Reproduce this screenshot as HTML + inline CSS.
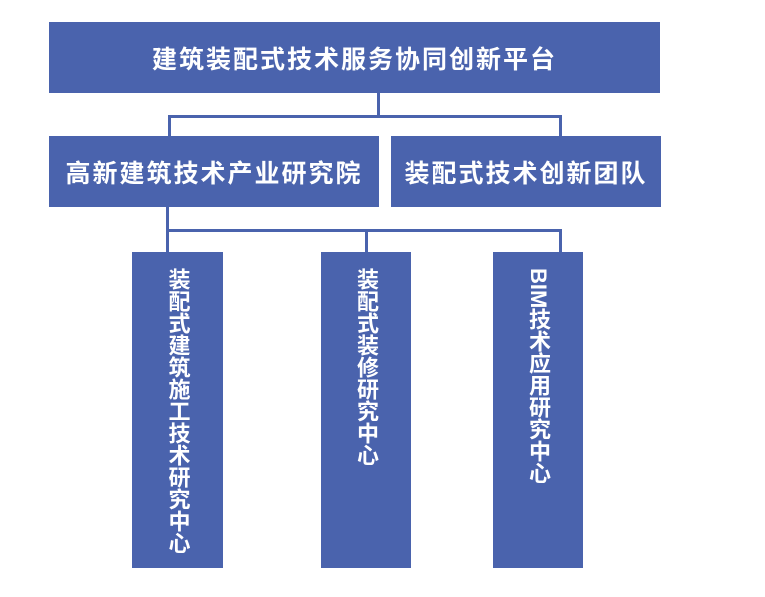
<!DOCTYPE html>
<html><head><meta charset="utf-8"><style>
body{margin:0;width:765px;height:597px;background:#fff;position:relative;overflow:hidden;font-family:"Liberation Sans","Noto Sans CJK SC",sans-serif;}
.b{position:absolute;background:#4a63ad;color:#fff;font-weight:bold;display:flex;align-items:center;justify-content:center;font-size:25px;letter-spacing:2px;}
.l{position:absolute;background:#4a63ad;}
.c{position:absolute;background:#4a63ad;color:#fff;font-weight:bold;}
.c span{position:absolute;left:0;right:0;top:16px;margin:0 auto;width:24px;writing-mode:vertical-rl;font-size:22px;line-height:24px;letter-spacing:0px;}
</style></head><body>
<div class="b" style="left:49px;top:22px;width:611px;height:71px;">建筑装配式技术服务协同创新平台</div>
<div class="l" style="left:377px;top:93px;width:3px;height:24px;"></div>
<div class="l" style="left:168px;top:115px;width:394px;height:3px;"></div>
<div class="l" style="left:168px;top:115px;width:3px;height:21px;"></div>
<div class="l" style="left:559px;top:115px;width:3px;height:21px;"></div>
<div class="b" style="left:49px;top:136px;width:330px;height:71px;">高新建筑技术产业研究院</div>
<div class="b" style="left:391px;top:136px;width:270px;height:71px;">装配式技术创新团队</div>
<div class="l" style="left:166px;top:207px;width:3px;height:24px;"></div>
<div class="l" style="left:166px;top:229px;width:396px;height:3px;"></div>
<div class="l" style="left:166px;top:229px;width:3px;height:23px;"></div>
<div class="l" style="left:365px;top:229px;width:3px;height:23px;"></div>
<div class="l" style="left:559px;top:229px;width:3px;height:23px;"></div>
<div class="c" style="left:132px;top:252px;width:91px;height:316px;"><span>装配式建筑施工技术研究中心</span></div>
<div class="c" style="left:321px;top:252px;width:90px;height:316px;"><span>装配式装修研究中心</span></div>
<div class="c" style="left:493px;top:252px;width:90px;height:316px;"><span>BIM技术应用研究中心</span></div>
</body></html>
